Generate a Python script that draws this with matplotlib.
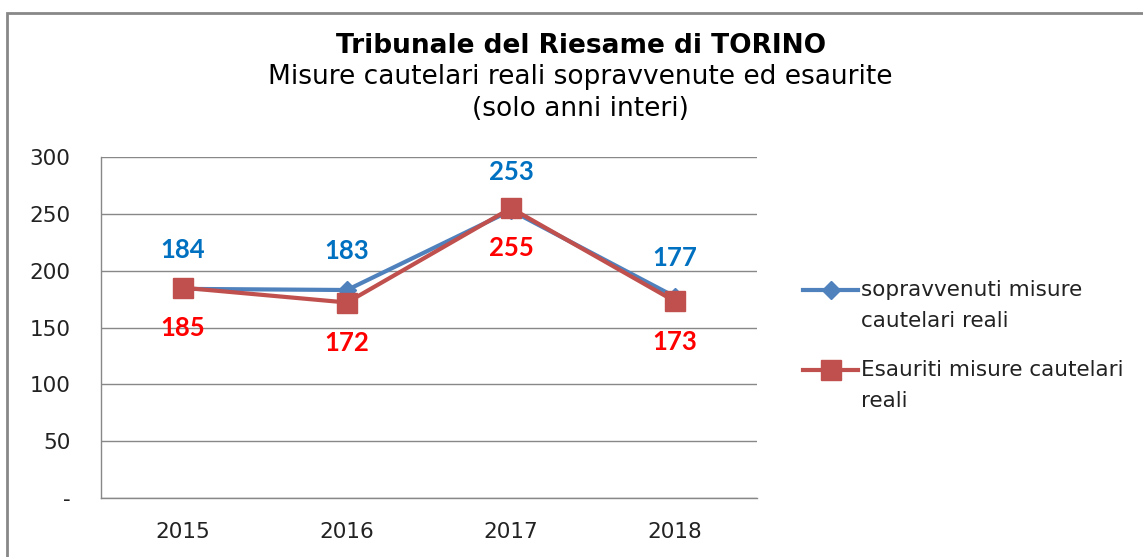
import matplotlib
matplotlib.use('Agg')
import matplotlib.pyplot as plt
from matplotlib.lines import Line2D
from matplotlib.patches import Rectangle

years = ['2015', '2016', '2017', '2018']
sopravvenuti = [184, 183, 253, 177]
esauriti = [185, 172, 255, 173]
y_ticks = [0, 50, 100, 150, 200, 250, 300]
y_labels = ['-', '50', '100', '150', '200', '250', '300']

blue = '#4F81BD'
red = '#C0504D'
grid_col = '#888888'

plt.rcParams['font.family'] = ['DejaVu Sans']

fig = plt.figure(figsize=(11.43, 5.57), dpi=100)
ax = fig.add_axes([0.0884, 0.1059, 0.5739, 0.6122])

x = list(range(len(years)))
ax.plot(x, sopravvenuti, color=blue, lw=3, marker='D', markersize=9, zorder=3)
ax.plot(x, esauriti, color=red, lw=3, marker='s', markersize=14, zorder=4)

# data labels
for i, v in enumerate(sopravvenuti):
    ax.annotate(str(v), (i, v), xytext=(0, 28), textcoords='offset points',
                ha='center', va='center', color='#0070C0', fontsize=18.5,
                fontweight='bold', family='Lato', zorder=5)
for i, v in enumerate(esauriti):
    ax.annotate(str(v), (i, v), xytext=(0, -29), textcoords='offset points',
                ha='center', va='center', color='#FF0000', fontsize=18.5,
                fontweight='bold', family='Lato', zorder=5)

ax.set_xlim(-0.5, len(years) - 0.5)
ax.set_ylim(0, 300)
ax.set_xticks(x)
ax.set_xticklabels(years)
ax.set_yticks(y_ticks)
ax.set_yticklabels(y_labels)
ax.tick_params(axis='both', length=0, labelsize=15.5, colors='#222222')
ax.tick_params(axis='y', pad=22)
ax.tick_params(axis='x', pad=17)
ax.yaxis.grid(True, color=grid_col, lw=1)
ax.set_axisbelow(True)
for s in ['top', 'right']:
    ax.spines[s].set_visible(False)
for s in ['left', 'bottom']:
    ax.spines[s].set_color(grid_col)
    ax.spines[s].set_linewidth(1)

# titles
fig.text(0.508, 0.917, 'Tribunale del Riesame di TORINO', ha='center', va='center',
         fontsize=19, fontweight='bold', color='black')
fig.text(0.508, 0.861, 'Misure cautelari reali sopravvenute ed esaurite', ha='center',
         va='center', fontsize=19, color='black')
fig.text(0.508, 0.805, '(solo anni interi)', ha='center', va='center',
         fontsize=19, color='black')
# caption above the chart, mostly cut off by the top edge as in the source
fig.text(0.514, 1 + 12 / 557, '(grafico 5)', ha='center', va='center', fontsize=17, color='black')

# manual legend (handle aligned with first text line)
W, H = 1143, 557
def leg_entry(y_px, color, marker, ms, lines):
    fy = 1 - y_px / H
    fig.add_artist(Line2D([803 / W, 858 / W], [fy, fy], color=color, lw=3,
                          transform=fig.transFigure))
    fig.add_artist(Line2D([830.5 / W], [fy], color=color, marker=marker,
                          markersize=ms, lw=0, transform=fig.transFigure))
    for k, t in enumerate(lines):
        fig.text(861 / W, 1 - (y_px + 31 * k) / H, t, ha='left', va='center',
                 fontsize=15.5, color='#222222')

leg_entry(290, blue, 'D', 9, ['sopravvenuti misure', 'cautelari reali'])
leg_entry(370, red, 's', 14, ['Esauriti misure cautelari', 'reali'])

# outer frame
fig.add_artist(Rectangle((7 / W, -0.05), 1.2, 1 - 13 / H + 0.05, fill=False,
                         edgecolor=grid_col, lw=2, transform=fig.transFigure))

fig.savefig('out.png', dpi=100)
